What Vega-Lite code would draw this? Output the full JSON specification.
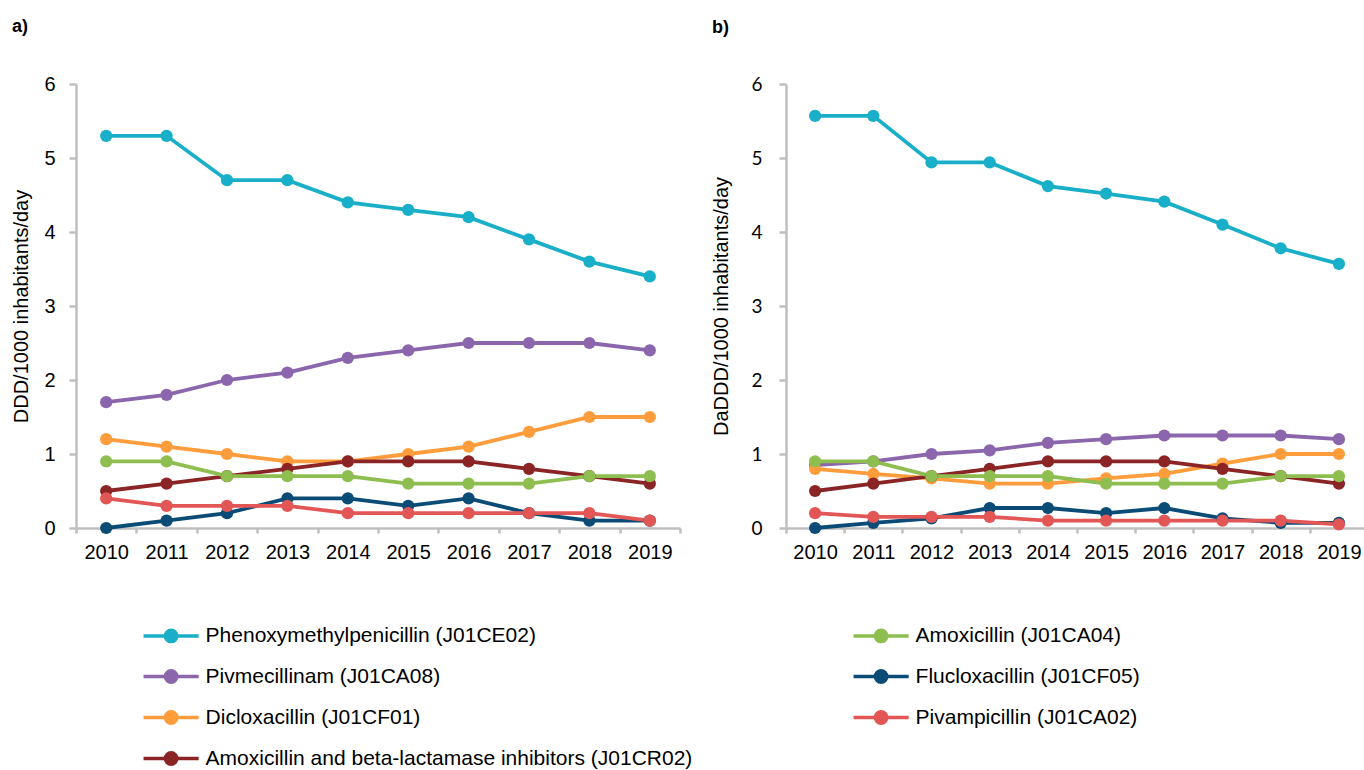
{
  "$schema": "https://vega.github.io/schema/vega-lite/v6.json",
  "padding": {"left": 11, "top": 18, "right": 0, "bottom": 0},
  "background": "white",
  "config": {"view": {"stroke": null}, "font": "Liberation Sans"},
  "spacing": 29,
  "datasets": {
    "a": [
      {"drug": "Phenoxymethylpenicillin (J01CE02)", "year": "2010", "value": 5.3},
      {"drug": "Phenoxymethylpenicillin (J01CE02)", "year": "2011", "value": 5.3},
      {"drug": "Phenoxymethylpenicillin (J01CE02)", "year": "2012", "value": 4.7},
      {"drug": "Phenoxymethylpenicillin (J01CE02)", "year": "2013", "value": 4.7},
      {"drug": "Phenoxymethylpenicillin (J01CE02)", "year": "2014", "value": 4.4},
      {"drug": "Phenoxymethylpenicillin (J01CE02)", "year": "2015", "value": 4.3},
      {"drug": "Phenoxymethylpenicillin (J01CE02)", "year": "2016", "value": 4.2},
      {"drug": "Phenoxymethylpenicillin (J01CE02)", "year": "2017", "value": 3.9},
      {"drug": "Phenoxymethylpenicillin (J01CE02)", "year": "2018", "value": 3.6},
      {"drug": "Phenoxymethylpenicillin (J01CE02)", "year": "2019", "value": 3.4},
      {"drug": "Pivmecillinam (J01CA08)", "year": "2010", "value": 1.7},
      {"drug": "Pivmecillinam (J01CA08)", "year": "2011", "value": 1.8},
      {"drug": "Pivmecillinam (J01CA08)", "year": "2012", "value": 2.0},
      {"drug": "Pivmecillinam (J01CA08)", "year": "2013", "value": 2.1},
      {"drug": "Pivmecillinam (J01CA08)", "year": "2014", "value": 2.3},
      {"drug": "Pivmecillinam (J01CA08)", "year": "2015", "value": 2.4},
      {"drug": "Pivmecillinam (J01CA08)", "year": "2016", "value": 2.5},
      {"drug": "Pivmecillinam (J01CA08)", "year": "2017", "value": 2.5},
      {"drug": "Pivmecillinam (J01CA08)", "year": "2018", "value": 2.5},
      {"drug": "Pivmecillinam (J01CA08)", "year": "2019", "value": 2.4},
      {"drug": "Dicloxacillin (J01CF01)", "year": "2010", "value": 1.2},
      {"drug": "Dicloxacillin (J01CF01)", "year": "2011", "value": 1.1},
      {"drug": "Dicloxacillin (J01CF01)", "year": "2012", "value": 1.0},
      {"drug": "Dicloxacillin (J01CF01)", "year": "2013", "value": 0.9},
      {"drug": "Dicloxacillin (J01CF01)", "year": "2014", "value": 0.9},
      {"drug": "Dicloxacillin (J01CF01)", "year": "2015", "value": 1.0},
      {"drug": "Dicloxacillin (J01CF01)", "year": "2016", "value": 1.1},
      {"drug": "Dicloxacillin (J01CF01)", "year": "2017", "value": 1.3},
      {"drug": "Dicloxacillin (J01CF01)", "year": "2018", "value": 1.5},
      {"drug": "Dicloxacillin (J01CF01)", "year": "2019", "value": 1.5},
      {"drug": "Amoxicillin and beta-lactamase inhibitors (J01CR02)", "year": "2010", "value": 0.5},
      {"drug": "Amoxicillin and beta-lactamase inhibitors (J01CR02)", "year": "2011", "value": 0.6},
      {"drug": "Amoxicillin and beta-lactamase inhibitors (J01CR02)", "year": "2012", "value": 0.7},
      {"drug": "Amoxicillin and beta-lactamase inhibitors (J01CR02)", "year": "2013", "value": 0.8},
      {"drug": "Amoxicillin and beta-lactamase inhibitors (J01CR02)", "year": "2014", "value": 0.9},
      {"drug": "Amoxicillin and beta-lactamase inhibitors (J01CR02)", "year": "2015", "value": 0.9},
      {"drug": "Amoxicillin and beta-lactamase inhibitors (J01CR02)", "year": "2016", "value": 0.9},
      {"drug": "Amoxicillin and beta-lactamase inhibitors (J01CR02)", "year": "2017", "value": 0.8},
      {"drug": "Amoxicillin and beta-lactamase inhibitors (J01CR02)", "year": "2018", "value": 0.7},
      {"drug": "Amoxicillin and beta-lactamase inhibitors (J01CR02)", "year": "2019", "value": 0.6},
      {"drug": "Amoxicillin (J01CA04)", "year": "2010", "value": 0.9},
      {"drug": "Amoxicillin (J01CA04)", "year": "2011", "value": 0.9},
      {"drug": "Amoxicillin (J01CA04)", "year": "2012", "value": 0.7},
      {"drug": "Amoxicillin (J01CA04)", "year": "2013", "value": 0.7},
      {"drug": "Amoxicillin (J01CA04)", "year": "2014", "value": 0.7},
      {"drug": "Amoxicillin (J01CA04)", "year": "2015", "value": 0.6},
      {"drug": "Amoxicillin (J01CA04)", "year": "2016", "value": 0.6},
      {"drug": "Amoxicillin (J01CA04)", "year": "2017", "value": 0.6},
      {"drug": "Amoxicillin (J01CA04)", "year": "2018", "value": 0.7},
      {"drug": "Amoxicillin (J01CA04)", "year": "2019", "value": 0.7},
      {"drug": "Flucloxacillin (J01CF05)", "year": "2010", "value": 0.0},
      {"drug": "Flucloxacillin (J01CF05)", "year": "2011", "value": 0.1},
      {"drug": "Flucloxacillin (J01CF05)", "year": "2012", "value": 0.2},
      {"drug": "Flucloxacillin (J01CF05)", "year": "2013", "value": 0.4},
      {"drug": "Flucloxacillin (J01CF05)", "year": "2014", "value": 0.4},
      {"drug": "Flucloxacillin (J01CF05)", "year": "2015", "value": 0.3},
      {"drug": "Flucloxacillin (J01CF05)", "year": "2016", "value": 0.4},
      {"drug": "Flucloxacillin (J01CF05)", "year": "2017", "value": 0.2},
      {"drug": "Flucloxacillin (J01CF05)", "year": "2018", "value": 0.1},
      {"drug": "Flucloxacillin (J01CF05)", "year": "2019", "value": 0.1},
      {"drug": "Pivampicillin (J01CA02)", "year": "2010", "value": 0.4},
      {"drug": "Pivampicillin (J01CA02)", "year": "2011", "value": 0.3},
      {"drug": "Pivampicillin (J01CA02)", "year": "2012", "value": 0.3},
      {"drug": "Pivampicillin (J01CA02)", "year": "2013", "value": 0.3},
      {"drug": "Pivampicillin (J01CA02)", "year": "2014", "value": 0.2},
      {"drug": "Pivampicillin (J01CA02)", "year": "2015", "value": 0.2},
      {"drug": "Pivampicillin (J01CA02)", "year": "2016", "value": 0.2},
      {"drug": "Pivampicillin (J01CA02)", "year": "2017", "value": 0.2},
      {"drug": "Pivampicillin (J01CA02)", "year": "2018", "value": 0.2},
      {"drug": "Pivampicillin (J01CA02)", "year": "2019", "value": 0.1}
    ],
    "b": [
      {"drug": "Phenoxymethylpenicillin (J01CE02)", "year": "2010", "value": 5.57},
      {"drug": "Phenoxymethylpenicillin (J01CE02)", "year": "2011", "value": 5.57},
      {"drug": "Phenoxymethylpenicillin (J01CE02)", "year": "2012", "value": 4.94},
      {"drug": "Phenoxymethylpenicillin (J01CE02)", "year": "2013", "value": 4.94},
      {"drug": "Phenoxymethylpenicillin (J01CE02)", "year": "2014", "value": 4.62},
      {"drug": "Phenoxymethylpenicillin (J01CE02)", "year": "2015", "value": 4.52},
      {"drug": "Phenoxymethylpenicillin (J01CE02)", "year": "2016", "value": 4.41},
      {"drug": "Phenoxymethylpenicillin (J01CE02)", "year": "2017", "value": 4.10},
      {"drug": "Phenoxymethylpenicillin (J01CE02)", "year": "2018", "value": 3.78},
      {"drug": "Phenoxymethylpenicillin (J01CE02)", "year": "2019", "value": 3.57},
      {"drug": "Pivmecillinam (J01CA08)", "year": "2010", "value": 0.85},
      {"drug": "Pivmecillinam (J01CA08)", "year": "2011", "value": 0.9},
      {"drug": "Pivmecillinam (J01CA08)", "year": "2012", "value": 1.0},
      {"drug": "Pivmecillinam (J01CA08)", "year": "2013", "value": 1.05},
      {"drug": "Pivmecillinam (J01CA08)", "year": "2014", "value": 1.15},
      {"drug": "Pivmecillinam (J01CA08)", "year": "2015", "value": 1.2},
      {"drug": "Pivmecillinam (J01CA08)", "year": "2016", "value": 1.25},
      {"drug": "Pivmecillinam (J01CA08)", "year": "2017", "value": 1.25},
      {"drug": "Pivmecillinam (J01CA08)", "year": "2018", "value": 1.25},
      {"drug": "Pivmecillinam (J01CA08)", "year": "2019", "value": 1.2},
      {"drug": "Dicloxacillin (J01CF01)", "year": "2010", "value": 0.8},
      {"drug": "Dicloxacillin (J01CF01)", "year": "2011", "value": 0.73},
      {"drug": "Dicloxacillin (J01CF01)", "year": "2012", "value": 0.67},
      {"drug": "Dicloxacillin (J01CF01)", "year": "2013", "value": 0.6},
      {"drug": "Dicloxacillin (J01CF01)", "year": "2014", "value": 0.6},
      {"drug": "Dicloxacillin (J01CF01)", "year": "2015", "value": 0.67},
      {"drug": "Dicloxacillin (J01CF01)", "year": "2016", "value": 0.73},
      {"drug": "Dicloxacillin (J01CF01)", "year": "2017", "value": 0.87},
      {"drug": "Dicloxacillin (J01CF01)", "year": "2018", "value": 1.0},
      {"drug": "Dicloxacillin (J01CF01)", "year": "2019", "value": 1.0},
      {"drug": "Amoxicillin and beta-lactamase inhibitors (J01CR02)", "year": "2010", "value": 0.5},
      {"drug": "Amoxicillin and beta-lactamase inhibitors (J01CR02)", "year": "2011", "value": 0.6},
      {"drug": "Amoxicillin and beta-lactamase inhibitors (J01CR02)", "year": "2012", "value": 0.7},
      {"drug": "Amoxicillin and beta-lactamase inhibitors (J01CR02)", "year": "2013", "value": 0.8},
      {"drug": "Amoxicillin and beta-lactamase inhibitors (J01CR02)", "year": "2014", "value": 0.9},
      {"drug": "Amoxicillin and beta-lactamase inhibitors (J01CR02)", "year": "2015", "value": 0.9},
      {"drug": "Amoxicillin and beta-lactamase inhibitors (J01CR02)", "year": "2016", "value": 0.9},
      {"drug": "Amoxicillin and beta-lactamase inhibitors (J01CR02)", "year": "2017", "value": 0.8},
      {"drug": "Amoxicillin and beta-lactamase inhibitors (J01CR02)", "year": "2018", "value": 0.7},
      {"drug": "Amoxicillin and beta-lactamase inhibitors (J01CR02)", "year": "2019", "value": 0.6},
      {"drug": "Amoxicillin (J01CA04)", "year": "2010", "value": 0.9},
      {"drug": "Amoxicillin (J01CA04)", "year": "2011", "value": 0.9},
      {"drug": "Amoxicillin (J01CA04)", "year": "2012", "value": 0.7},
      {"drug": "Amoxicillin (J01CA04)", "year": "2013", "value": 0.7},
      {"drug": "Amoxicillin (J01CA04)", "year": "2014", "value": 0.7},
      {"drug": "Amoxicillin (J01CA04)", "year": "2015", "value": 0.6},
      {"drug": "Amoxicillin (J01CA04)", "year": "2016", "value": 0.6},
      {"drug": "Amoxicillin (J01CA04)", "year": "2017", "value": 0.6},
      {"drug": "Amoxicillin (J01CA04)", "year": "2018", "value": 0.7},
      {"drug": "Amoxicillin (J01CA04)", "year": "2019", "value": 0.7},
      {"drug": "Flucloxacillin (J01CF05)", "year": "2010", "value": 0.0},
      {"drug": "Flucloxacillin (J01CF05)", "year": "2011", "value": 0.07},
      {"drug": "Flucloxacillin (J01CF05)", "year": "2012", "value": 0.13},
      {"drug": "Flucloxacillin (J01CF05)", "year": "2013", "value": 0.27},
      {"drug": "Flucloxacillin (J01CF05)", "year": "2014", "value": 0.27},
      {"drug": "Flucloxacillin (J01CF05)", "year": "2015", "value": 0.2},
      {"drug": "Flucloxacillin (J01CF05)", "year": "2016", "value": 0.27},
      {"drug": "Flucloxacillin (J01CF05)", "year": "2017", "value": 0.13},
      {"drug": "Flucloxacillin (J01CF05)", "year": "2018", "value": 0.07},
      {"drug": "Flucloxacillin (J01CF05)", "year": "2019", "value": 0.07},
      {"drug": "Pivampicillin (J01CA02)", "year": "2010", "value": 0.2},
      {"drug": "Pivampicillin (J01CA02)", "year": "2011", "value": 0.15},
      {"drug": "Pivampicillin (J01CA02)", "year": "2012", "value": 0.15},
      {"drug": "Pivampicillin (J01CA02)", "year": "2013", "value": 0.15},
      {"drug": "Pivampicillin (J01CA02)", "year": "2014", "value": 0.1},
      {"drug": "Pivampicillin (J01CA02)", "year": "2015", "value": 0.1},
      {"drug": "Pivampicillin (J01CA02)", "year": "2016", "value": 0.1},
      {"drug": "Pivampicillin (J01CA02)", "year": "2017", "value": 0.1},
      {"drug": "Pivampicillin (J01CA02)", "year": "2018", "value": 0.1},
      {"drug": "Pivampicillin (J01CA02)", "year": "2019", "value": 0.05}
    ]
  },
  "hconcat": [
    {
      "data": {"name": "a"},
      "width": 604,
      "height": 444,
      "title": {"text": "a)", "anchor": "start", "frame": "bounds", "fontSize": 18, "fontWeight": "bold", "font": "Liberation Sans", "color": "#000", "offset": 24, "baseline": "alphabetic"},
      "encoding": {
        "x": {"field": "year", "type": "ordinal", "scale": {"type": "band", "paddingInner": 0, "paddingOuter": 0},
          "axis": {"title": null, "labelAngle": 0, "labelFontSize": 20, "labelFont": "Liberation Sans", "labelColor": "#000", "labelPadding": 9, "tickSize": 5, "tickBand": "extent", "tickWidth": 2.5, "tickColor": "#BFBFBF", "domainColor": "#BFBFBF", "domainWidth": 2.5, "grid": false}},
        "y": {"field": "value", "type": "quantitative", "scale": {"domain": [0, 6]},
          "axis": {"values": [0, 1, 2, 3, 4, 5, 6], "title": "DDD/1000 inhabitants/day", "titleFontSize": 20, "titleFontWeight": "normal", "titleFont": "Liberation Sans", "titleColor": "#000", "titlePadding": 12, "labelFontSize": 20, "labelFont": "Liberation Sans", "labelColor": "#000", "labelPadding": 14, "labelFlush": false, "tickSize": 7, "tickWidth": 2.5, "tickColor": "#BFBFBF", "domainColor": "#BFBFBF", "domainWidth": 2.5, "grid": false}},
        "color": {"field": "drug", "type": "nominal",
          "scale": {"domain": ["Phenoxymethylpenicillin (J01CE02)", "Pivmecillinam (J01CA08)", "Dicloxacillin (J01CF01)", "Amoxicillin and beta-lactamase inhibitors (J01CR02)", "Amoxicillin (J01CA04)", "Flucloxacillin (J01CF05)", "Pivampicillin (J01CA02)"],
            "range": ["#1AAFC8", "#8C66AD", "#FF9C3C", "#8B2525", "#8DBE4F", "#0B4C77", "#E35656"]},
          "legend": {"orient": "none", "legendX": 74.6, "legendY": 531, "columns": 2, "columnPadding": 153, "rowPadding": 7, "padding": 0, "gridAlign": "each", "title": null,
            "symbolType": "M-1.5,0H1.5M0.31,0A0.31,0.31,0,1,1,-0.31,0A0.31,0.31,0,1,1,0.31,0Z", "symbolSize": 1350, "symbolStrokeWidth": 3.5,
            "labelFontSize": 21, "labelFont": "Liberation Sans", "labelColor": "#000", "labelOffset": 14, "labelLimit": 1000,
            "encode": {"symbols": {"update": {"fill": {"scale": "color", "field": "value"}, "stroke": {"scale": "color", "field": "value"}, "strokeWidth": {"value": 3.5}, "opacity": {"value": 1}, "fillOpacity": {"value": 1}}}}}}
      },
      "layer": [
        {"mark": {"type": "line", "strokeWidth": 3.8}},
        {"mark": {"type": "point", "filled": true, "size": 150, "opacity": 1}}
      ]
    },
    {
      "data": {"name": "b"},
      "width": 582,
      "height": 444,
      "title": {"text": "b)", "anchor": "start", "frame": "bounds", "fontSize": 18, "fontWeight": "bold", "font": "Liberation Sans", "color": "#000", "offset": 24, "baseline": "alphabetic"},
      "encoding": {
        "x": {"field": "year", "type": "ordinal", "scale": {"type": "band", "paddingInner": 0, "paddingOuter": 0},
          "axis": {"title": null, "labelAngle": 0, "labelFontSize": 20, "labelFont": "Liberation Sans", "labelColor": "#000", "labelPadding": 9, "tickSize": 5, "tickBand": "extent", "tickWidth": 2.5, "tickColor": "#BFBFBF", "domainColor": "#BFBFBF", "domainWidth": 2.5, "grid": false}},
        "y": {"field": "value", "type": "quantitative", "scale": {"domain": [0, 6]},
          "axis": {"values": [0, 1, 2, 3, 4, 5, 6], "title": "DaDDD/1000 inhabitants/day", "titleFontSize": 20, "titleFontWeight": "normal", "titleFont": "Liberation Sans", "titleColor": "#000", "titlePadding": 19, "labelFontSize": 19, "labelFont": "Lato", "labelColor": "#000", "labelPadding": 17, "labelFlush": false, "tickSize": 7, "tickWidth": 2.5, "tickColor": "#BFBFBF", "domainColor": "#BFBFBF", "domainWidth": 2.5, "grid": false}},
        "color": {"field": "drug", "type": "nominal",
          "scale": {"domain": ["Phenoxymethylpenicillin (J01CE02)", "Pivmecillinam (J01CA08)", "Dicloxacillin (J01CF01)", "Amoxicillin and beta-lactamase inhibitors (J01CR02)", "Amoxicillin (J01CA04)", "Flucloxacillin (J01CF05)", "Pivampicillin (J01CA02)"],
            "range": ["#1AAFC8", "#8C66AD", "#FF9C3C", "#8B2525", "#8DBE4F", "#0B4C77", "#E35656"]},
          "legend": {"orient": "none", "legendX": 74.6, "legendY": 531, "columns": 2, "columnPadding": 153, "rowPadding": 7, "padding": 0, "gridAlign": "each", "title": null,
            "symbolType": "M-1.5,0H1.5M0.31,0A0.31,0.31,0,1,1,-0.31,0A0.31,0.31,0,1,1,0.31,0Z", "symbolSize": 1350, "symbolStrokeWidth": 3.5,
            "labelFontSize": 21, "labelFont": "Liberation Sans", "labelColor": "#000", "labelOffset": 14, "labelLimit": 1000,
            "encode": {"symbols": {"update": {"fill": {"scale": "color", "field": "value"}, "stroke": {"scale": "color", "field": "value"}, "strokeWidth": {"value": 3.5}, "opacity": {"value": 1}, "fillOpacity": {"value": 1}}}}}}
      },
      "layer": [
        {"mark": {"type": "line", "strokeWidth": 3.8}},
        {"mark": {"type": "point", "filled": true, "size": 150, "opacity": 1}}
      ]
    }
  ],
  "resolve": {"scale": {"color": "shared"}, "legend": {"color": "shared"}}
}
